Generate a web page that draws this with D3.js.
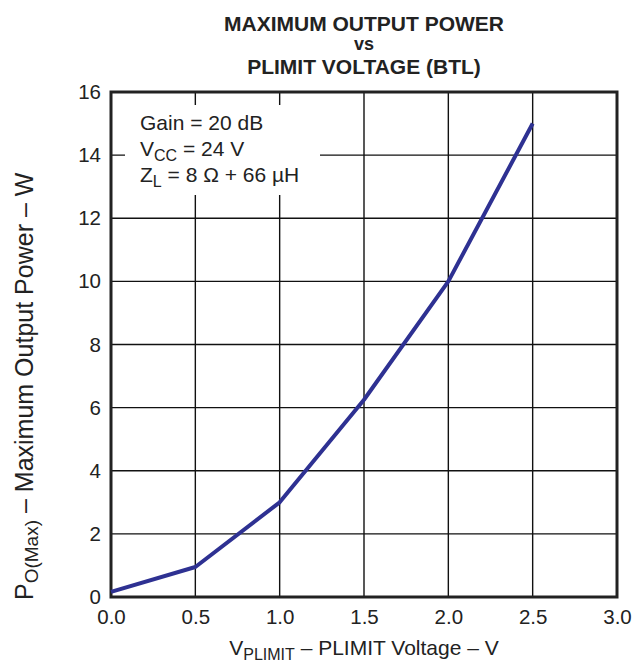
<!DOCTYPE html>
<html><head><meta charset="utf-8">
<script src="https://cdn.jsdelivr.net/npm/d3@7"></script>
<style>body{margin:0;background:#fff}svg{display:block}text{font-family:"Liberation Sans",Arial,sans-serif;fill:#222}</style>
</head><body>
<script>
const voltage = [0.0, 0.5, 1.0, 1.5, 2.0, 2.5];
const power = [0.16, 0.95, 3.0, 6.25, 10.0, 15.0];
const xTicks = [0, 0.5, 1.0, 1.5, 2.0, 2.5, 3.0];
const yTicks = [0, 2, 4, 6, 8, 10, 12, 14, 16];
const titleLines = ["MAXIMUM OUTPUT POWER", "vs", "PLIMIT VOLTAGE (BTL)"];

const W = 633, H = 663;
const m = {l: 111, r: 617, t: 92, b: 597};
const svg = d3.select("body").append("svg").attr("width", W).attr("height", H);
const x = d3.scaleLinear().domain([0, 3]).range([m.l, m.r]);
const y = d3.scaleLinear().domain([0, 16]).range([m.b, m.t]);

// grid
svg.append("g").selectAll("line").data(xTicks.slice(1, -1)).join("line")
  .attr("x1", d => x(d)).attr("x2", d => x(d)).attr("y1", m.t).attr("y2", m.b)
  .attr("stroke", "#111").attr("stroke-width", 1.4);
svg.append("g").selectAll("line").data(yTicks.slice(1, -1)).join("line")
  .attr("x1", m.l).attr("x2", m.r).attr("y1", d => y(d)).attr("y2", d => y(d))
  .attr("stroke", "#111").attr("stroke-width", 1.4);

// annotation background
svg.append("rect").attr("x", 125).attr("y", 105).attr("width", 195).attr("height", 90).attr("fill", "#fff");

// axes (labels)
const xa = svg.append("g").attr("transform", `translate(0,${m.b})`)
  .call(d3.axisBottom(x).tickValues(xTicks).tickFormat(d3.format(".1f")).tickSize(0).tickPadding(12));
const ya = svg.append("g").attr("transform", `translate(${m.l},0)`)
  .call(d3.axisLeft(y).tickValues(yTicks).tickFormat(d3.format("d")).tickSize(0).tickPadding(10));
[xa, ya].forEach(a => {
  a.select(".domain").remove();
  a.selectAll("text").attr("font-size", 20.5).attr("fill", "#222")
    .attr("font-family", '"Liberation Sans",Arial,sans-serif');
});

// border
svg.append("rect").attr("x", m.l).attr("y", m.t).attr("width", m.r - m.l).attr("height", m.b - m.t)
  .attr("fill", "none").attr("stroke", "#222").attr("stroke-width", 3);

// line
svg.append("path").datum(voltage.map((v, i) => [v, power[i]]))
  .attr("d", d3.line().x(d => x(d[0])).y(d => y(d[1])))
  .attr("fill", "none").attr("stroke", "#2e3192").attr("stroke-width", 4).attr("stroke-linejoin", "round");

// title
const tb = [31, 50, 74];
svg.append("g").selectAll("text").data(titleLines).join("text")
  .attr("x", (m.l + m.r) / 2).attr("y", (d, i) => tb[i]).attr("text-anchor", "middle")
  .attr("font-weight", "bold").attr("font-size", (d, i) => i === 1 ? 18 : 21).attr("fill", "#111").text(d => d);

// annotation
const ann = svg.append("g").attr("font-size", 21);
ann.append("text").attr("x", 140).attr("y", 130).text("Gain = 20 dB");
const t2 = ann.append("text").attr("x", 140).attr("y", 156);
t2.append("tspan").text("V");
t2.append("tspan").attr("font-size", 16).attr("dy", 5).text("CC");
t2.append("tspan").attr("dy", -5).text(" = 24 V");
const t3 = ann.append("text").attr("x", 140).attr("y", 182);
t3.append("tspan").text("Z");
t3.append("tspan").attr("font-size", 16).attr("dy", 5).text("L");
t3.append("tspan").attr("dy", -5).text(" = 8 Ω + 66 µH");

// x title
const xt = svg.append("text").attr("x", (m.l + m.r) / 2).attr("y", 655).attr("text-anchor", "middle").attr("font-size", 21);
xt.append("tspan").text("V");
xt.append("tspan").attr("font-size", 16).attr("dy", 5).text("PLIMIT");
xt.append("tspan").attr("dy", -5).text(" – PLIMIT Voltage – V");

// y title
const yt = svg.append("text").attr("transform", `translate(33,600) rotate(-90)`)
  .attr("text-anchor", "start").attr("font-size", 25);
yt.append("tspan").text("P");
yt.append("tspan").attr("font-size", 19).attr("dy", 5).text("O(Max)");
yt.append("tspan").attr("dy", -5).text(" – Maximum Output Power – W");
</script>
</body></html>
